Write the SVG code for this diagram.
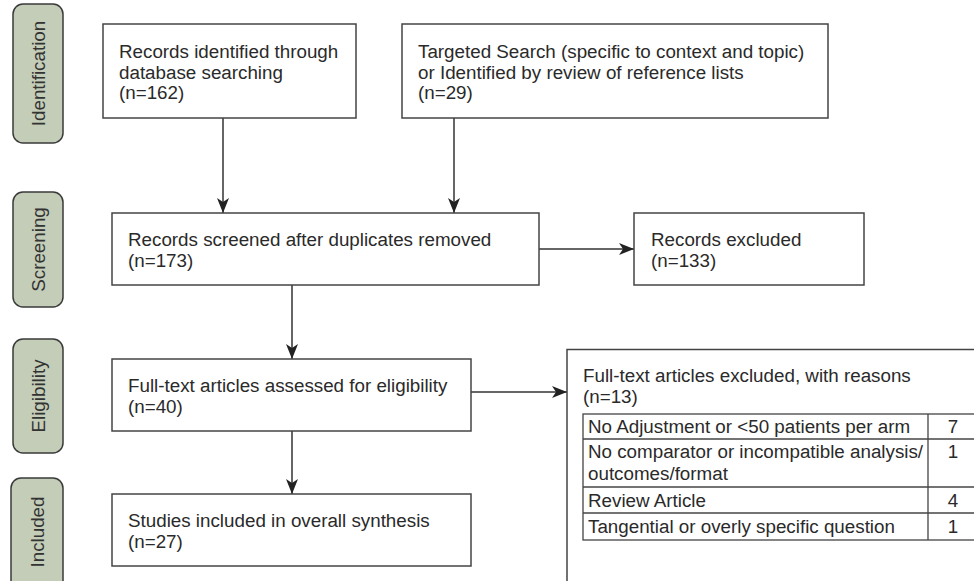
<svg xmlns="http://www.w3.org/2000/svg" width="974" height="581" viewBox="0 0 974 581">
<style>
  .box { fill: #ffffff; stroke: #444444; stroke-width: 1.5; }
  .stage { fill: #c4cdb8; stroke: #3a3a3a; stroke-width: 1.5; }
  .t { font-family: "Liberation Sans", Arial, sans-serif; font-size: 18.8px; fill: #2a2a2a; }
  .st { font-family: "Liberation Sans", Arial, sans-serif; font-size: 18.8px; fill: #333333; text-anchor: middle; }
  .num { text-anchor: middle; }
  .conn { stroke: #333333; stroke-width: 1.5; fill: none; marker-end: url(#arr); }
  .grid { stroke: #444444; stroke-width: 1.3; fill: none; }
</style>
<defs>
  <marker id="arr" viewBox="0 0 15 12" refX="15" refY="6" markerWidth="15" markerHeight="12" markerUnits="userSpaceOnUse" orient="auto">
    <path d="M0,0 L15,6 L0,12 L4,6 Z" fill="#222222"/>
  </marker>
</defs>
<rect width="974" height="581" fill="#ffffff"/>

<g id="stage-identification">
  <rect class="stage" x="13" y="4" width="50" height="139" rx="10"/>
  <text class="st" transform="translate(44.5,73.5) rotate(-90)">Identification</text>
</g>
<g id="stage-screening">
  <rect class="stage" x="13" y="192" width="50" height="115" rx="10"/>
  <text class="st" transform="translate(44.5,249.5) rotate(-90)">Screening</text>
</g>
<g id="stage-eligibility">
  <rect class="stage" x="13" y="339" width="50" height="114" rx="10"/>
  <text class="st" transform="translate(44.5,396) rotate(-90)">Eligibility</text>
</g>
<g id="stage-included">
  <rect class="stage" x="11" y="478" width="52" height="115" rx="10"/>
  <text class="st" transform="translate(43.5,532) rotate(-90)">Included</text>
</g>

<g id="connectors">
  <line class="conn" x1="223" y1="118" x2="223" y2="213"/>
  <line class="conn" x1="454" y1="118" x2="454" y2="213"/>
  <line class="conn" x1="539" y1="249" x2="634" y2="249"/>
  <line class="conn" x1="292" y1="285" x2="292" y2="359"/>
  <line class="conn" x1="471" y1="392" x2="567" y2="392"/>
  <line class="conn" x1="292" y1="431" x2="292" y2="494"/>
</g>

<g id="records-identified">
  <rect class="box" x="103" y="24" width="253" height="94"/>
  <text class="t" x="119" y="58">Records identified through<tspan x="119" y="78.5">database searching</tspan><tspan x="119" y="99">(n=162)</tspan></text>
</g>
<g id="targeted-search">
  <rect class="box" x="402" y="24" width="426" height="94"/>
  <text class="t" x="418" y="58">Targeted Search (specific to context and topic)<tspan x="418" y="78.5">or Identified by review of reference lists</tspan><tspan x="418" y="99">(n=29)</tspan></text>
</g>
<g id="records-screened">
  <rect class="box" x="112" y="213" width="427" height="72"/>
  <text class="t" x="128" y="246">Records screened after duplicates removed<tspan x="128" y="267">(n=173)</tspan></text>
</g>
<g id="records-excluded">
  <rect class="box" x="634" y="213" width="230" height="72"/>
  <text class="t" x="651" y="246">Records excluded<tspan x="651" y="267">(n=133)</tspan></text>
</g>
<g id="fulltext-assessed">
  <rect class="box" x="112" y="359" width="359" height="72"/>
  <text class="t" x="128" y="392">Full-text articles assessed for eligibility<tspan x="128" y="413">(n=40)</tspan></text>
</g>
<g id="studies-included">
  <rect class="box" x="112" y="494" width="359" height="72"/>
  <text class="t" x="128" y="527">Studies included in overall synthesis<tspan x="128" y="548">(n=27)</tspan></text>
</g>
<g id="fulltext-excluded">
  <rect class="box" x="567" y="349.5" width="440" height="260"/>
  <text class="t" x="583" y="382">Full-text articles excluded, with reasons<tspan x="583" y="403">(n=13)</tspan></text>
  <g id="reasons-table">
    <rect class="grid" x="583" y="414" width="400" height="126"/>
    <line class="grid" x1="583" y1="439" x2="983" y2="439"/>
    <line class="grid" x1="583" y1="487" x2="983" y2="487"/>
    <line class="grid" x1="583" y1="513" x2="983" y2="513"/>
    <line class="grid" x1="928" y1="414" x2="928" y2="540"/>
    <text class="t" x="588" y="433">No Adjustment or &lt;50 patients per arm</text>
    <text class="t" x="588" y="458">No comparator or incompatible analysis/<tspan x="588" y="480">outcomes/format</tspan></text>
    <text class="t" x="588" y="507">Review Article</text>
    <text class="t" x="588" y="533">Tangential or overly specific question</text>
    <text class="t num" x="953" y="433">7</text>
    <text class="t num" x="953" y="458">1</text>
    <text class="t num" x="953" y="507">4</text>
    <text class="t num" x="953" y="533">1</text>
  </g>
</g>
</svg>
